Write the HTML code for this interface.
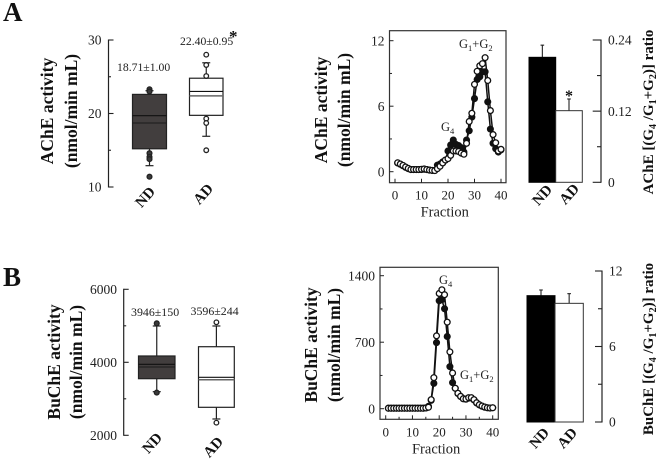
<!DOCTYPE html>
<html lang="en">
<head>
<meta charset="utf-8">
<title>AChE and BuChE activity charts</title>
<style>
html,body{margin:0;padding:0;background:#fff;width:661px;height:461px;overflow:hidden}
svg{display:block;font-family:"Liberation Serif",serif;fill:#222}
.b{font-weight:bold}
</style>
</head>
<body>
<svg id="fig" width="661" height="461" viewBox="0 0 661 461" xmlns="http://www.w3.org/2000/svg">
<rect width="661" height="461" fill="#fff"/>
<text x="3" y="21" font-size="27" class="b" fill="#111">A</text>
<text x="3" y="286" font-size="27" class="b" fill="#111">B</text>

<g class="b" font-size="17.5" text-anchor="middle" fill="#111">
<text transform="translate(53,111) rotate(-90)">AChE activity</text>
<text transform="translate(77,111) rotate(-90)">(nmol/min mL)</text>
</g>
<g class="b" font-size="17.5" text-anchor="middle" fill="#111">
<text transform="translate(327,110) rotate(-90)">AChE activity</text>
<text transform="translate(350,110) rotate(-90)">(nmol/min mL)</text>
</g>
<g class="b" font-size="17.5" text-anchor="middle" fill="#111">
<text transform="translate(60,362) rotate(-90)">BuChE activity</text>
<text transform="translate(82,362) rotate(-90)">(nmol/min mL)</text>
</g>
<g class="b" font-size="17.5" text-anchor="middle" fill="#111">
<text transform="translate(317,345) rotate(-90)">BuChE activity</text>
<text transform="translate(340,345) rotate(-90)">(nmol/min mL)</text>
</g>

<text class="b" font-size="15" text-anchor="middle" fill="#111" transform="translate(653,112) rotate(-90)">AChE [(G<tspan font-size="10" dy="3">4</tspan><tspan dy="-3"> /G</tspan><tspan font-size="10" dy="3">1</tspan><tspan dy="-3">+G</tspan><tspan font-size="10" dy="3">2</tspan><tspan dy="-3">)] ratio</tspan></text>
<text class="b" font-size="15" text-anchor="middle" fill="#111" transform="translate(653,349) rotate(-90)">BuChE [(G<tspan font-size="10" dy="3">4</tspan><tspan dy="-3"> /G</tspan><tspan font-size="10" dy="3">1</tspan><tspan dy="-3">+G</tspan><tspan font-size="10" dy="3">2</tspan><tspan dy="-3">)] ratio</tspan></text>

<text x="117" y="71" font-size="11.7">18.71±1.00</text>
<text x="180" y="45" font-size="11.7">22.40±0.95</text>
<text x="229" y="42" font-size="17" class="b" fill="#111">*</text>
<text x="131" y="316" font-size="11.9">3946±150</text>
<text x="190.5" y="315" font-size="11.9">3596±244</text>

<text x="441" y="131" font-size="12.5">G<tspan font-size="8.5" dy="3">4</tspan></text>
<text x="459" y="48" font-size="12.5">G<tspan font-size="8.5" dy="3">1</tspan><tspan dy="-3">+G</tspan><tspan font-size="8.5" dy="3">2</tspan></text>
<text x="439" y="284" font-size="12.5">G<tspan font-size="8.5" dy="3">4</tspan></text>
<text x="460" y="379" font-size="12.5">G<tspan font-size="8.5" dy="3">1</tspan><tspan dy="-3">+G</tspan><tspan font-size="8.5" dy="3">2</tspan></text>
<text x="565" y="101" font-size="16" class="b" fill="#111">*</text>
</svg>
<script>
// ---- Box plot data: [whiskerLow, q1, median, mean, q3, whiskerHigh]
var acheBoxTicks = [10, 15, 20, 25, 30];
var acheBoxTickLabels = ["10", "", "20", "", "30"];
var acheNdBox = [12.9, 15.2, 19.7, 18.7, 22.6, 23.1];
var acheNdOutliers = [23.3, 23.0, 14.6, 14.1, 13.8, 11.4];
var acheAdBox = [16.9, 19.75, 23.0, 22.4, 24.8, 26.9];
var acheAdOutliers = [28.0, 26.6, 25.1, 19.3, 18.7, 15.0];

var bucheBoxTicks = [2000, 3000, 4000, 5000, 6000];
var bucheBoxTickLabels = ["2000", "", "4000", "", "6000"];
var bucheNdBox = [3195, 3551, 3945, 3870, 4173, 4995];
var bucheNdOutliers = [5068, 3170];
var bucheAdBox = [2447, 2767, 3589, 3523, 4427, 4995];
var bucheAdOutliers = [5096, 2345];

// ---- Elution profile data (fractions 1..40)
var fractions = [1,2,3,4,5,6,7,8,9,10,11,12,13,14,15,16,17,18,19,20,21,22,23,24,25,26,27,28,29,30,31,32,33,34,35,36,37,38,39,40];
var acheLineTicks = [0, 3, 6, 9, 12];
var acheLineTickLabels = ["0", "", "6", "", "12"];
var acheLineXTicks = [0, 10, 20, 30, 40];
var acheWhite = [0.82,0.7,0.58,0.43,0.3,0.2,0.2,0.2,0.2,0.22,0.25,0.2,0.15,0.12,0.1,0.28,0.5,0.8,1.07,1.2,1.5,1.9,1.9,1.85,1.7,1.6,2.6,4.6,5.35,8.0,9.2,9.7,9.9,10.45,8.35,5.6,3.4,2.65,1.9,2.05];
var acheBlack = [0.8,0.68,0.55,0.4,0.28,0.2,0.2,0.2,0.2,0.2,0.22,0.2,0.15,0.12,0.12,0.6,0.7,0.9,1.05,1.9,2.45,2.9,2.5,2.4,2.2,1.8,2.9,3.75,5.0,6.7,8.45,8.7,9.15,9.15,6.4,3.9,2.6,2.1,1.8,2.0];

var bucheLineTicks = [0, 350, 700, 1050, 1400];
var bucheLineTickLabels = ["0", "", "700", "", "1400"];
var bucheLineXTicks = [0, 5, 10, 15, 20, 25, 30, 35, 40];
var bucheWhite = [5,5,5,5,5,5,5,5,5,5,5,5,5,5,8,15,95,327,767,1213,1252,1200,911,598,376,215,162,130,105,102,116,116,95,63,42,28,18,10,7,10];
var bucheBlack = [5,5,5,5,5,5,5,5,5,5,5,5,5,5,8,25,88,267,696,1136,1147,1052,760,443,274,215,160,128,105,100,112,114,92,60,40,26,16,10,7,10];

// ---- Bar data: [ND, AD]
var acheRatioTicks = [0, 0.06, 0.12, 0.18, 0.24];
var acheRatioTickLabels = ["0", "", "0.12", "", "0.24"];
var acheRatioValues = [0.2108, 0.1208];
var acheRatioErrors = [0.0205, 0.0197];
var bucheRatioTicks = [0, 3, 6, 9, 12];
var bucheRatioTickLabels = ["0", "", "6", "", "12"];
var bucheRatioValues = [10.04, 9.43];
var bucheRatioErrors = [0.45, 0.77];
var groupLabels = ["ND", "AD"];

var svg = document.getElementById('fig');
var NS = 'http://www.w3.org/2000/svg';
var INK = '#222';

function add(parent, tag, attrs, name, text) {
  var el = document.createElementNS(NS, tag);
  for (var k in attrs) el.setAttribute(k, attrs[k]);
  
  
  if (text !== undefined) el.textContent = text;
  parent.appendChild(el);
  return el;
}
function linear(d0, d1, r0, r1) {
  return function (v) { return r0 + (v - d0) * (r1 - r0) / (d1 - d0); };
}
function line(g, x1, y1, x2, y2, w, name, color) {
  return add(g, 'line', {x1: x1, y1: y1, x2: x2, y2: y2, stroke: color || INK, 'stroke-width': w}, name);
}
function yAxisLeft(g, prefix, axisX, y, ticks, labels, top, bottom, labelX) {
  line(g, axisX, y(ticks[ticks.length - 1]) - 0.5, axisX, y(ticks[0]) + 0.5, 1.2, prefix + '-y-axis');
  ticks.forEach(function (t, i) {
    var len = labels[i] ? 5 : 2.5;
    line(g, axisX, y(t), axisX + len, y(t), 1.1, prefix + '-y-tick');
    if (labels[i]) add(g, 'text', {x: labelX, y: y(t) + 4.6, 'font-size': 13.5, 'text-anchor': 'end'}, prefix + '-y-tick-label', labels[i]);
  });
}
function rotatedLabel(g, cx, cy, txt, name) {
  add(g, 'text', {transform: 'translate(' + cx + ',' + cy + ') rotate(-48)', 'font-size': 15, 'font-weight': 'bold', 'text-anchor': 'middle', fill: '#111'}, name, txt);
}
function boxPlot(g, prefix, y, box, outliers, x0, x1, dark, outlierR) {
  var cx = (x0 + x1) / 2;
  var fill = dark ? '#423e3e' : '#fff';
  var meanColor = dark ? '#1a1a1a' : '#666';
  line(g, cx, y(box[0]), cx, y(box[5]), 1.2, prefix + '-whisker');
  line(g, cx - 4, y(box[0]), cx + 4, y(box[0]), 1.2, prefix + '-whisker-cap-low');
  line(g, cx - 4, y(box[5]), cx + 4, y(box[5]), 1.2, prefix + '-whisker-cap-high');
  add(g, 'rect', {x: x0, y: y(box[4]), width: x1 - x0, height: y(box[1]) - y(box[4]), fill: fill, stroke: '#222', 'stroke-width': 1.2}, prefix + '-box');
  line(g, x0, y(box[2]), x1, y(box[2]), 1.1, prefix + '-median', '#111');
  line(g, x0, y(box[3]), x1, y(box[3]), dark ? 1 : 1.5, prefix + '-mean', meanColor);
  outliers.forEach(function (v) {
    add(g, 'circle', {cx: cx, cy: y(v), r: outlierR, fill: dark ? '#3a3a3a' : '#fff', stroke: '#222', 'stroke-width': 1.3}, prefix + '-outlier');
  });
}
function elution(g, prefix, x, y, frame, yTicks, yLabels, xTicks, blackVals, whiteVals, r) {
  add(g, 'rect', {x: frame[0], y: frame[1], width: frame[2] - frame[0], height: frame[3] - frame[1], fill: 'none', stroke: '#333', 'stroke-width': 1.2}, prefix + '-plot-frame');
  yTicks.forEach(function (t, i) {
    line(g, frame[0], y(t), frame[0] + (yLabels[i] ? 4 : 2.5), y(t), 1, prefix + '-y-tick');
    if (yLabels[i]) add(g, 'text', {x: frame[0] - 5, y: y(t) + 4.6, 'font-size': 13.5, 'text-anchor': 'end'}, prefix + '-y-tick-label', yLabels[i]);
  });
  xTicks.forEach(function (t) {
    line(g, x(t), frame[3], x(t), frame[3] - (t % 10 === 0 ? 4 : 2.5), 1, prefix + '-x-tick');
    if (t % 10 === 0) add(g, 'text', {x: x(t), y: frame[3] + 17, 'font-size': 13, 'text-anchor': 'middle'}, prefix + '-x-tick-label', String(t));
  });
  add(g, 'text', {x: (frame[0] + frame[2]) / 2 - 3, y: frame[3] + 34, 'font-size': 14.5, 'text-anchor': 'middle'}, prefix + '-x-title', 'Fraction');
  function pts(vals) { return vals.map(function (v, i) { return x(fractions[i]) + ',' + y(v); }).join(' '); }
  add(g, 'polyline', {points: pts(blackVals), fill: 'none', stroke: '#111', 'stroke-width': 1.5}, prefix + '-nd-line');
  add(g, 'polyline', {points: pts(whiteVals), fill: 'none', stroke: '#111', 'stroke-width': 1.5}, prefix + '-ad-line');
  blackVals.forEach(function (v, i) {
    add(g, 'circle', {cx: x(fractions[i]), cy: y(v), r: r, fill: '#111', stroke: '#111', 'stroke-width': 1.3}, prefix + '-nd-point');
  });
  whiteVals.forEach(function (v, i) {
    add(g, 'circle', {cx: x(fractions[i]), cy: y(v), r: r, fill: '#fff', stroke: '#111', 'stroke-width': 1.3}, prefix + '-ad-point');
  });
}
function ratioBars(g, prefix, y, vals, errs, ticks, labels, edges, axisX, tickLeft, labelX) {
  vals.forEach(function (v, i) {
    var x0 = edges[i], x1 = edges[i + 1], cx = (x0 + x1) / 2;
    var top = y(v), errTop = y(v + errs[i]);
    line(g, cx, top, cx, errTop, 1.1, prefix + '-error-bar-' + groupLabels[i].toLowerCase());
    line(g, cx - 1.8, errTop, cx + 1.8, errTop, 1.1, prefix + '-error-cap-' + groupLabels[i].toLowerCase());
    add(g, 'rect', {x: x0, y: top, width: x1 - x0, height: y(0) - top, fill: i === 0 ? '#000' : '#fff', stroke: i === 0 ? '#000' : '#333', 'stroke-width': 1}, prefix + '-bar-' + groupLabels[i].toLowerCase());
  });
  line(g, axisX, y(ticks[ticks.length - 1]) - 0.5, axisX, y(ticks[0]) + 0.5, 1.2, prefix + '-y-axis');
  ticks.forEach(function (t, i) {
    line(g, axisX, y(t), labels[i] ? tickLeft : axisX - 4, y(t), 1.1, prefix + '-y-tick');
    if (labels[i]) add(g, 'text', {x: labelX, y: y(t) + 4.6, 'font-size': 13.5}, prefix + '-y-tick-label', labels[i]);
  });
}

// Panel A
var g1 = add(svg, 'g', {}, 'ache-box-plot');
var yA = linear(10, 30, 187, 40);
yAxisLeft(g1, 'ache-box', 108.5, yA, acheBoxTicks, acheBoxTickLabels, 40, 187, 101.5);
boxPlot(g1, 'ache-nd', yA, acheNdBox, acheNdOutliers, 132.5, 166.5, true, 2.4);
boxPlot(g1, 'ache-ad', yA, acheAdBox, acheAdOutliers, 189.5, 223, false, 2.3);
rotatedLabel(g1, 148.7, 200.3, groupLabels[0], 'ache-box-nd-label');
rotatedLabel(g1, 206.7, 197.3, groupLabels[1], 'ache-box-ad-label');

var g2 = add(svg, 'g', {}, 'ache-elution-chart');
elution(g2, 'ache-line', linear(0, 40, 395, 501), linear(0, 12, 171.7, 40.7), [389.5, 30.7, 506, 182.7],
  acheLineTicks, acheLineTickLabels, acheLineXTicks, acheBlack, acheWhite, 2.9);

var g3 = add(svg, 'g', {}, 'ache-ratio-chart');
ratioBars(g3, 'ache-ratio', linear(0, 0.24, 182.3, 40), acheRatioValues, acheRatioErrors, acheRatioTicks, acheRatioTickLabels,
  [529, 555.7, 582.3], 601, 592.7, 608);
rotatedLabel(g3, 545.7, 198.3, groupLabels[0], 'ache-ratio-nd-label');
rotatedLabel(g3, 572.7, 197.3, groupLabels[1], 'ache-ratio-ad-label');

// Panel B
var g4 = add(svg, 'g', {}, 'buche-box-plot');
var yB = linear(2000, 6000, 435.3, 289.3);
yAxisLeft(g4, 'buche-box', 123.7, yB, bucheBoxTicks, bucheBoxTickLabels, 289, 435, 117);
boxPlot(g4, 'buche-nd', yB, bucheNdBox, bucheNdOutliers, 138.5, 175, true, 2.4);
boxPlot(g4, 'buche-ad', yB, bucheAdBox, bucheAdOutliers, 198.5, 234.3, false, 2.3);
rotatedLabel(g4, 155.7, 446.3, groupLabels[0], 'buche-box-nd-label');
rotatedLabel(g4, 216.7, 450.3, groupLabels[1], 'buche-box-ad-label');

var g5 = add(svg, 'g', {}, 'buche-elution-chart');
elution(g5, 'buche-line', linear(0, 40, 385.7, 492.7), linear(0, 1400, 408.7, 275.7), [380, 267.3, 498.3, 419.3],
  bucheLineTicks, bucheLineTickLabels, bucheLineXTicks, bucheBlack, bucheWhite, 2.9);

var g6 = add(svg, 'g', {}, 'buche-ratio-chart');
ratioBars(g6, 'buche-ratio', linear(0, 12, 422, 271), bucheRatioValues, bucheRatioErrors, bucheRatioTicks, bucheRatioTickLabels,
  [527, 555, 583.3], 602, 595, 609);
rotatedLabel(g6, 542.7, 441.3, groupLabels[0], 'buche-ratio-nd-label');
rotatedLabel(g6, 570.7, 441.3, groupLabels[1], 'buche-ratio-ad-label');
</script>
</body>
</html>
